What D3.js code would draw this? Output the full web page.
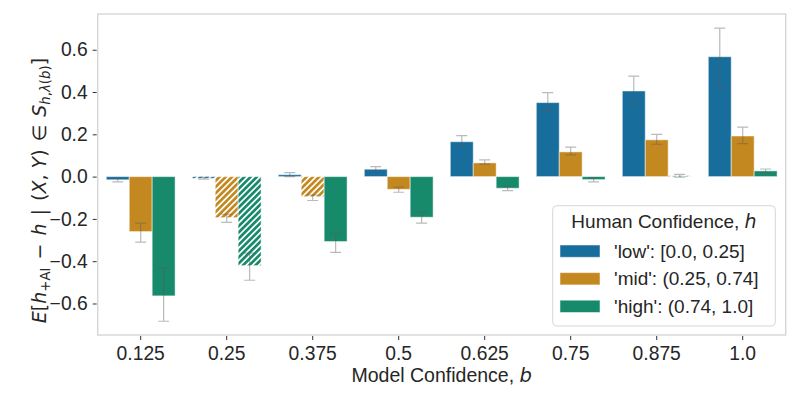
<!DOCTYPE html>
<html>
<head>
<meta charset="utf-8">
<script src="https://cdn.jsdelivr.net/npm/d3@7"></script>
<style>
  body { margin: 0; background: #fff; }
  text { font-family: "Liberation Sans", Arial, sans-serif; fill: #262626; }
</style>
</head>
<body>
<svg id="chart" width="797" height="399"></svg>
<script>
'use strict'

const categories = ['0.125', '0.25', '0.375', '0.5', '0.625', '0.75', '0.875', '1.0']
const hues = ['low', 'mid', 'high']
const legendLabels = ["'low': [0.0, 0.25]", "'mid': (0.25, 0.74]", "'high': (0.74, 1.0]"]
const colors = ['#176d9c', '#c38820', '#168a6a']

const lowMean = [-0.015, -0.008, 0.009, 0.035, 0.165, 0.350, 0.405, 0.567]
const lowLo = [-0.025, -0.012, 0.000, 0.025, 0.145, 0.311, 0.342, 0.424]
const lowHi = [-0.008, -0.004, 0.019, 0.047, 0.194, 0.397, 0.475, 0.702]
const lowHatch = [false, true, false, false, false, false, false, false]

const midMean = [-0.260, -0.194, -0.095, -0.060, 0.065, 0.117, 0.174, 0.192]
const midLo = [-0.310, -0.216, -0.113, -0.074, 0.059, 0.103, 0.153, 0.156]
const midHi = [-0.220, -0.178, -0.087, -0.050, 0.079, 0.139, 0.200, 0.234]
const midHatch = [false, true, true, false, false, false, false, false]

const highMean = [-0.564, -0.421, -0.307, -0.192, -0.055, -0.014, 0.004, 0.027]
const highLo = [-0.684, -0.490, -0.358, -0.220, -0.066, -0.025, -0.002, 0.018]
const highHi = [-0.433, -0.362, -0.268, -0.168, -0.045, -0.005, 0.011, 0.036]
const highHatch = [false, true, false, false, false, false, true, false]

const yTicks = [-0.6, -0.4, -0.2, 0.0, 0.2, 0.4, 0.6]

const series = [
    { mean: lowMean, lo: lowLo, hi: lowHi, hatch: lowHatch },
    { mean: midMean, lo: midLo, hi: midHi, hatch: midHatch },
    { mean: highMean, lo: highLo, hi: highHi, hatch: highHatch },
]

const rows = []
categories.forEach((c, i) => {
    hues.forEach((h, j) => {
        const s = series[j]
        rows.push({ cat: c, hue: h, j: j, v: s.mean[i], lo: s.lo[i], hi: s.hi[i], hatch: s.hatch[i] })
    })
})

const mLeft = 97.7, mRight = 785.7, mTop = 14, mBottom = 335
const fs = 19.3

const svg = d3.select('#chart')

const x0 = d3.scaleBand().domain(categories).range([mLeft, mRight]).padding(0)
const bw = x0.bandwidth()
const x1 = d3.scaleBand().domain(hues).range([0.1 * bw, 0.9 * bw]).padding(0)
const y = d3.scaleLinear().domain([-0.749, 0.769]).range([mBottom, mTop])

// hatch patterns
const defs = svg.append('defs')
colors.forEach((col, j) => {
    const p = defs.append('pattern')
        .attr('id', 'hatch' + j)
        .attr('patternUnits', 'userSpaceOnUse')
        .attr('width', 4.4)
        .attr('height', 4.4)
        .attr('patternTransform', 'rotate(45)')
    p.append('rect').attr('width', 4.4).attr('height', 4.4).attr('fill', col)
    p.append('rect').attr('x', 0).attr('width', 1.7).attr('height', 4.4).attr('fill', '#fff')
})

// bars
svg.append('g')
    .selectAll('rect')
    .data(rows)
    .join('rect')
    .attr('x', d => x0(d.cat) + x1(d.hue))
    .attr('width', x1.bandwidth())
    .attr('y', d => Math.min(y(d.v), y(0)))
    .attr('height', d => Math.abs(y(d.v) - y(0)))
    .attr('fill', d => d.hatch ? `url(#hatch${d.j})` : colors[d.j])
    .attr('stroke', '#fff')
    .attr('stroke-opacity', 0.5)
    .attr('stroke-width', 1)

// error bars
const err = svg.append('g')
    .attr('stroke', 'rgb(90,90,90)')
    .attr('stroke-opacity', 0.42)
    .attr('stroke-width', 1.2)
    .attr('fill', 'none')
const cap = 5.5
err.selectAll('path')
    .data(rows)
    .join('path')
    .attr('d', d => {
        const cx = x0(d.cat) + x1(d.hue) + x1.bandwidth() / 2
        return `M${cx},${y(d.lo)}V${y(d.hi)}` +
            `M${cx - cap},${y(d.lo)}H${cx + cap}` +
            `M${cx - cap},${y(d.hi)}H${cx + cap}`
    })

// frame
svg.append('rect')
    .attr('x', mLeft)
    .attr('y', mTop)
    .attr('width', mRight - mLeft)
    .attr('height', mBottom - mTop)
    .attr('fill', 'none')
    .attr('stroke', '#d6d6d6')
    .attr('stroke-width', 1.4)

// axes
const xAxis = svg.append('g')
    .attr('transform', `translate(0,${mBottom + 1})`)
    .call(d3.axisBottom(x0).tickSizeOuter(0).tickSize(4).tickPadding(6))
xAxis.select('.domain').remove()
xAxis.selectAll('.tick line').attr('stroke', '#333')
xAxis.selectAll('.tick text')
    .attr('font-size', fs)
    .attr('font-family', '"Liberation Sans", Arial, sans-serif')
    .attr('fill', '#262626')

const yAxis = svg.append('g')
    .attr('transform', `translate(${mLeft - 1},0)`)
    .call(d3.axisLeft(y).tickValues(yTicks).tickFormat(d3.format('.1f')).tickSize(4).tickPadding(5))
yAxis.select('.domain').remove()
yAxis.selectAll('.tick line').attr('stroke', '#333')
yAxis.selectAll('.tick text')
    .attr('font-size', fs)
    .attr('font-family', '"Liberation Sans", Arial, sans-serif')
    .attr('fill', '#262626')

// x label
svg.append('text')
    .attr('x', (mLeft + mRight) / 2)
    .attr('y', 381.7)
    .attr('text-anchor', 'middle')
    .attr('font-size', 19.5)
    .html('Model Confidence, <tspan font-style="italic" font-family="DejaVu Sans">b</tspan>')

// y label (math-like, spaced around operators)
const yl = svg.append('text')
    .attr('transform', 'translate(46,190.5) rotate(-90)')
    .attr('text-anchor', 'middle')
    .attr('font-size', 19)
    .style('font-family', '"DejaVu Sans", sans-serif')
yl.html(
    '<tspan font-style="italic">E</tspan>[<tspan font-style="italic">h</tspan>' +
    '<tspan font-size="13.3" dy="4">+AI</tspan>' +
    '<tspan dy="-4" dx="2"> − </tspan><tspan font-style="italic" dx="2">h</tspan>' +
    '<tspan dx="2"> | </tspan><tspan dx="2">(</tspan>' +
    '<tspan font-style="italic">X</tspan>, <tspan font-style="italic">Y</tspan>)' +
    '<tspan dx="2"> ∈ </tspan><tspan font-style="italic" dx="2">S</tspan>' +
    '<tspan font-size="13.3" dy="4" font-style="italic">h</tspan><tspan font-size="13.3">,</tspan>' +
    '<tspan font-size="13.3" font-style="italic">λ</tspan><tspan font-size="13.3">(</tspan>' +
    '<tspan font-size="13.3" font-style="italic">b</tspan><tspan font-size="13.3">)</tspan>' +
    '<tspan dy="-4">]</tspan>'
)

// legend
const lg = svg.append('g')
lg.append('rect')
    .attr('x', 552.7)
    .attr('y', 205.7)
    .attr('width', 222.6)
    .attr('height', 120.3)
    .attr('rx', 4)
    .attr('fill', '#fff')
    .attr('fill-opacity', 0.85)
    .attr('stroke', '#d6d6d6')
    .attr('stroke-width', 1)
lg.append('text')
    .attr('x', 664)
    .attr('y', 228.3)
    .attr('text-anchor', 'middle')
    .attr('font-size', 19)
    .html('Human Confidence, <tspan font-style="italic" font-family="DejaVu Sans">h</tspan>')
const entries = lg.selectAll('g.entry')
    .data(legendLabels)
    .join('g')
    .attr('class', 'entry')
    .attr('transform', (d, i) => `translate(0,${251 + i * 27.6})`)
entries.append('rect')
    .attr('x', 560)
    .attr('y', -6)
    .attr('width', 40)
    .attr('height', 12.3)
    .attr('fill', (d, i) => colors[i])
    .attr('stroke', '#fff')
    .attr('stroke-opacity', 0.5)
entries.append('text')
    .attr('x', 614)
    .attr('y', 6.5)
    .attr('font-size', 19)
    .text(d => d)
</script>
</body>
</html>
